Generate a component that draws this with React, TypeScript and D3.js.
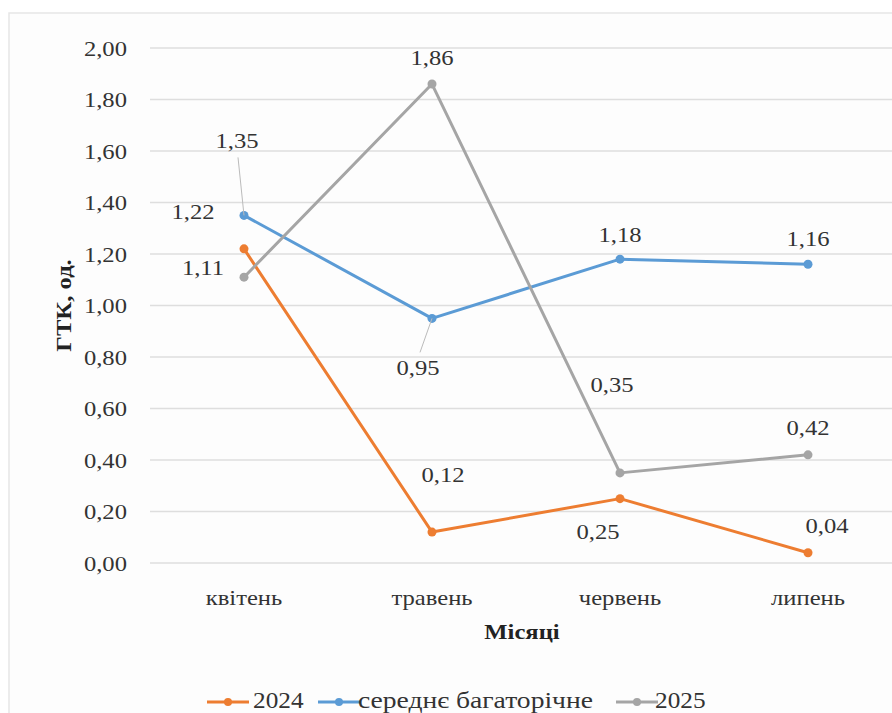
import React from "react";
import * as d3 from "d3";

const months = ["квітень", "травень", "червень", "липень"];
const seriesNames = ["2024", "середнє багаторічне", "2025"];
const values2024 = [1.22, 0.12, 0.25, 0.04];
const valuesAvg = [1.35, 0.95, 1.18, 1.16];
const values2025 = [1.11, 1.86, 0.35, 0.42];
const yTicks = [0, 0.2, 0.4, 0.6, 0.8, 1.0, 1.2, 1.4, 1.6, 1.8, 2.0];

const colors = ["#ED7D31", "#5B9BD5", "#A5A5A5"];
// label offsets (dx, dy) relative to point, per series
const labelOffsets = [
  [[-51, -38], [11, -58], [-22, 33], [19, -27]],
  [[-7, -75], [-14, 49], [0, -25], [0, -26]],
  [[-41, -10], [0, -27], [-8, -89], [0, -28]],
];
const leaders = [
  [null, null, null, null],
  [[-6, -58], [-12, 34], null, null],
  [null, null, null, null],
];

const W = 892, H = 713;
const FONT = "Liberation Serif";
const SX = 1.12;

function T({ x, y, anchor = "start", size = 22, bold = false, fill = "#333", rotate = 0, sx = SX, children }: any) {
  return (
    <text
      transform={`translate(${x},${y}) rotate(${rotate}) scale(${sx},1)`}
      dy="0.35em"
      textAnchor={anchor}
      style={{ fontFamily: FONT, fontSize: size, fontWeight: bold ? "bold" : "normal" }}
      fill={fill}
    >
      {children}
    </text>
  );
}

export default function App() {
  const x = d3.scaleBand().domain(months).range([150, 902]);
  const y = d3.scaleLinear().domain([0, 2]).range([563, 48]);
  const fmt = (v: number) => d3.format(".2f")(v).replace(".", ",");
  const all = [values2024, valuesAvg, values2025];
  const cx = (m: string) => (x(m) as number) + x.bandwidth() / 2;
  const line = d3
    .line<number>()
    .x((_, i) => cx(months[i]))
    .y((d) => y(d));
  const legendItems = [
    { lx: 207, tx: 253, sx: 1.1 },
    { lx: 318, tx: 358, sx: 1.2 },
    { lx: 616, tx: 655, sx: 1.1 },
  ];
  return (
    <svg width={W} height={H} style={{ position: "absolute", left: 0, top: 0, background: "#fff" }}>
      <rect x={9} y={13} width={900} height={720} fill="#fdfdfd" stroke="#e6e6e6" strokeWidth={1.5} />
      {yTicks.map((t) => (
        <g key={t}>
          <line x1={150} x2={892} y1={y(t)} y2={y(t)} stroke="#dedede" strokeWidth={1.3} />
          <T x={127} y={y(t)} anchor="end">{fmt(t)}</T>
        </g>
      ))}
      {months.map((m) => (
        <T key={m} x={cx(m)} y={597} anchor="middle">{m}</T>
      ))}
      <T x={522} y={631} anchor="middle" bold fill="#222">Місяці</T>
      <T x={63} y={(48 + 563) / 2} anchor="middle" bold fill="#222" rotate={-90}>ГТК, од.</T>
      {all.map((vals, s) => (
        <g key={s}>
          <path d={line(vals) as string} fill="none" stroke={colors[s]} strokeWidth={3} strokeLinejoin="round" />
          {vals.map((v, i) => (
            <circle key={i} cx={cx(months[i])} cy={y(v)} r={4.5} fill={colors[s]} />
          ))}
        </g>
      ))}
      {all.map((vals, s) =>
        vals.map((v, i) => {
          const px = cx(months[i]);
          const py = y(v);
          const [dx, dy] = labelOffsets[s][i];
          const ld = leaders[s][i];
          return (
            <g key={`${s}-${i}`}>
              {ld && <line x1={px + ld[0]} y1={py + ld[1]} x2={px} y2={py} stroke="#bbb" strokeWidth={1} />}
              <T x={px + dx} y={py + dy} anchor="middle">{fmt(v)}</T>
            </g>
          );
        })
      )}
      {seriesNames.map((n, s) => (
        <g key={n}>
          <line x1={legendItems[s].lx} x2={legendItems[s].lx + 42} y1={702} y2={702} stroke={colors[s]} strokeWidth={3} />
          <circle cx={legendItems[s].lx + 21} cy={702} r={4} fill={colors[s]} />
          <T x={legendItems[s].tx} y={700} size={23} sx={legendItems[s].sx}>{n}</T>
        </g>
      ))}
    </svg>
  );
}
